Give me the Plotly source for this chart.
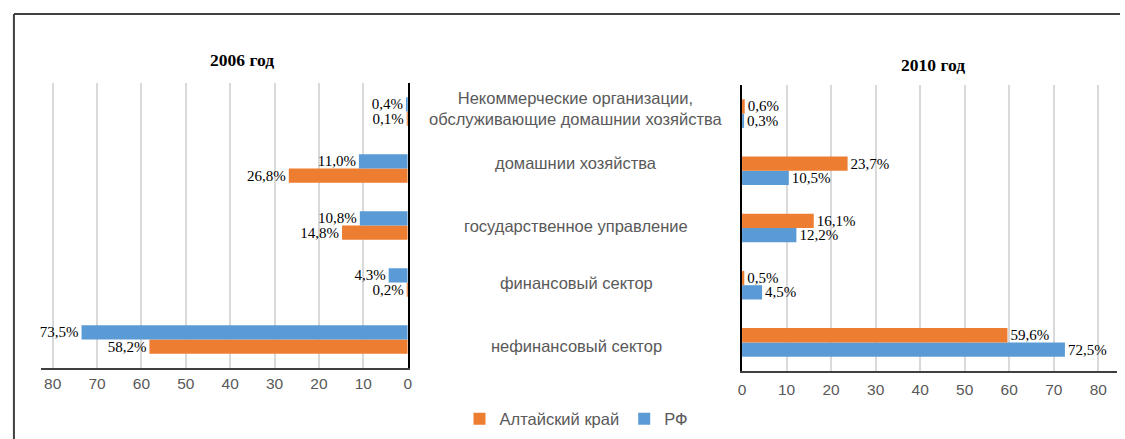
import plotly.graph_objects as go

categories = [
    "Некоммерческие организации,<br>обслуживающие домашнии хозяйства",
    "домашнии хозяйства",
    "государственное управление",
    "финансовый сектор",
    "нефинансовый сектор",
]
rf_2006 = [0.4, 11.0, 10.8, 4.3, 73.5]
altai_2006 = [0.1, 26.8, 14.8, 0.2, 58.2]
altai_2010 = [0.6, 23.7, 16.1, 0.5, 59.6]
rf_2010 = [0.3, 10.5, 12.2, 4.5, 72.5]
x_ticks = [0, 10, 20, 30, 40, 50, 60, 70, 80]

ORANGE = "#ED7D31"
BLUE = "#5B9BD5"
W, H = 1125, 439

def lbl(vals):
    return [f"{v:.1f}".replace(".", ",") + "%" for v in vals]

cat_order = list(reversed(categories))
label_font = dict(family="Liberation Serif", size=15, color="#000000")

def bar(y, x, color, name, xa, ya, **kw):
    return go.Bar(y=y, x=x, orientation="h", marker=dict(color=color, line=dict(width=0)),
                  name=name, text=lbl(x), textposition="outside", constraintext="none",
                  textfont=label_font, cliponaxis=False, xaxis=xa, yaxis=ya, **kw)

fig = go.Figure()
# Left panel (2006): orange first -> bottom of group, blue on top
fig.add_trace(bar(categories, altai_2006, ORANGE, "Алтайский край", "x", "y", showlegend=False))
fig.add_trace(bar(categories, rf_2006, BLUE, "РФ", "x", "y", showlegend=False))
# Right panel (2010): blue first -> bottom, orange on top
fig.add_trace(bar(categories, rf_2010, BLUE, "РФ", "x2", "y2", legendrank=2))
fig.add_trace(bar(categories, altai_2010, ORANGE, "Алтайский край", "x2", "y2", legendrank=1))

def px_x(p):
    return p / W

def px_y(p):
    return (H - p) / H

tick_font = dict(family="Liberation Sans", size=15.5, color="#595959")

fig.update_layout(
    width=W, height=H,
    margin=dict(l=0, r=0, t=0, b=0),
    paper_bgcolor="white", plot_bgcolor="white",
    barmode="group", bargap=0.5, bargroupgap=0,
    xaxis=dict(domain=[px_x(37), px_x(407)], range=[82.7, 0], tickvals=x_ticks,
               showgrid=True, gridcolor="#d9d9d9", gridwidth=1.5,
               showline=True, linecolor="#404040", linewidth=2, zeroline=False,
               ticks="", tickfont=tick_font, anchor="y"),
    yaxis=dict(domain=[px_y(368), px_y(83)], categoryorder="array", categoryarray=cat_order,
               showticklabels=False, showgrid=False, showline=True, linecolor="#000000",
               linewidth=2, side="right", anchor="x", zeroline=False),
    xaxis2=dict(domain=[px_x(744), px_x(1122)], range=[0, 84.2], tickvals=x_ticks,
                showgrid=True, gridcolor="#d9d9d9", gridwidth=1.5,
                showline=True, linecolor="#404040", linewidth=2, zeroline=False,
                ticks="", tickfont=tick_font, anchor="y2", ticklabelstandoff=3),
    yaxis2=dict(domain=[px_y(371), px_y(85)], categoryorder="array", categoryarray=cat_order,
                showticklabels=False, showgrid=False, showline=True, linecolor="#000000",
                linewidth=2, anchor="x2", zeroline=False),
    legend=dict(orientation="h", x=0.513, xanchor="center", y=px_y(419), yanchor="middle",
                font=dict(family="Liberation Sans", size=16.5, color="#595959"),
                traceorder="normal", itemwidth=30),
    showlegend=True,
)

annotations = [
    dict(text="<b>2006 год</b>", x=px_x(240), y=px_y(60), xref="paper", yref="paper",
         xanchor="center", yanchor="middle",
         showarrow=False, font=dict(family="Liberation Serif", size=17.5, color="#000000")),
    dict(text="<b>2010 год</b>", x=px_x(936), y=px_y(65), xref="paper", yref="paper",
         xanchor="center", yanchor="middle",
         showarrow=False, font=dict(family="Liberation Serif", size=17.5, color="#000000")),
]
label_shift = [3, 6, 0, 0, -6]
for c, s in zip(categories, label_shift):
    annotations.append(dict(text=c, x=px_x(577), y=c, xref="paper", yref="y",
                            xanchor="center", yanchor="middle", yshift=s,
                            showarrow=False, align="center",
                            font=dict(family="Liberation Sans", size=16.5, color="#595959")))
fig.update_layout(annotations=annotations)

fig.add_shape(type="line", xref="paper", yref="paper", x0=px_x(10), x1=1, y0=px_y(14), y1=px_y(14),
              line=dict(color="#404040", width=2))
fig.add_shape(type="line", xref="paper", yref="paper", x0=px_x(10), x1=px_x(10), y0=0, y1=px_y(14),
              line=dict(color="#404040", width=2))

fig.write_html("out.html", config={"displayModeBar": False})

with open("out.html", "r", encoding="utf-8") as f:
    html = f.read()
html = html.replace("<head>", "<head><style>html,body{margin:0;padding:0;overflow:hidden;}</style>", 1)
with open("out.html", "w", encoding="utf-8") as f:
    f.write(html)
